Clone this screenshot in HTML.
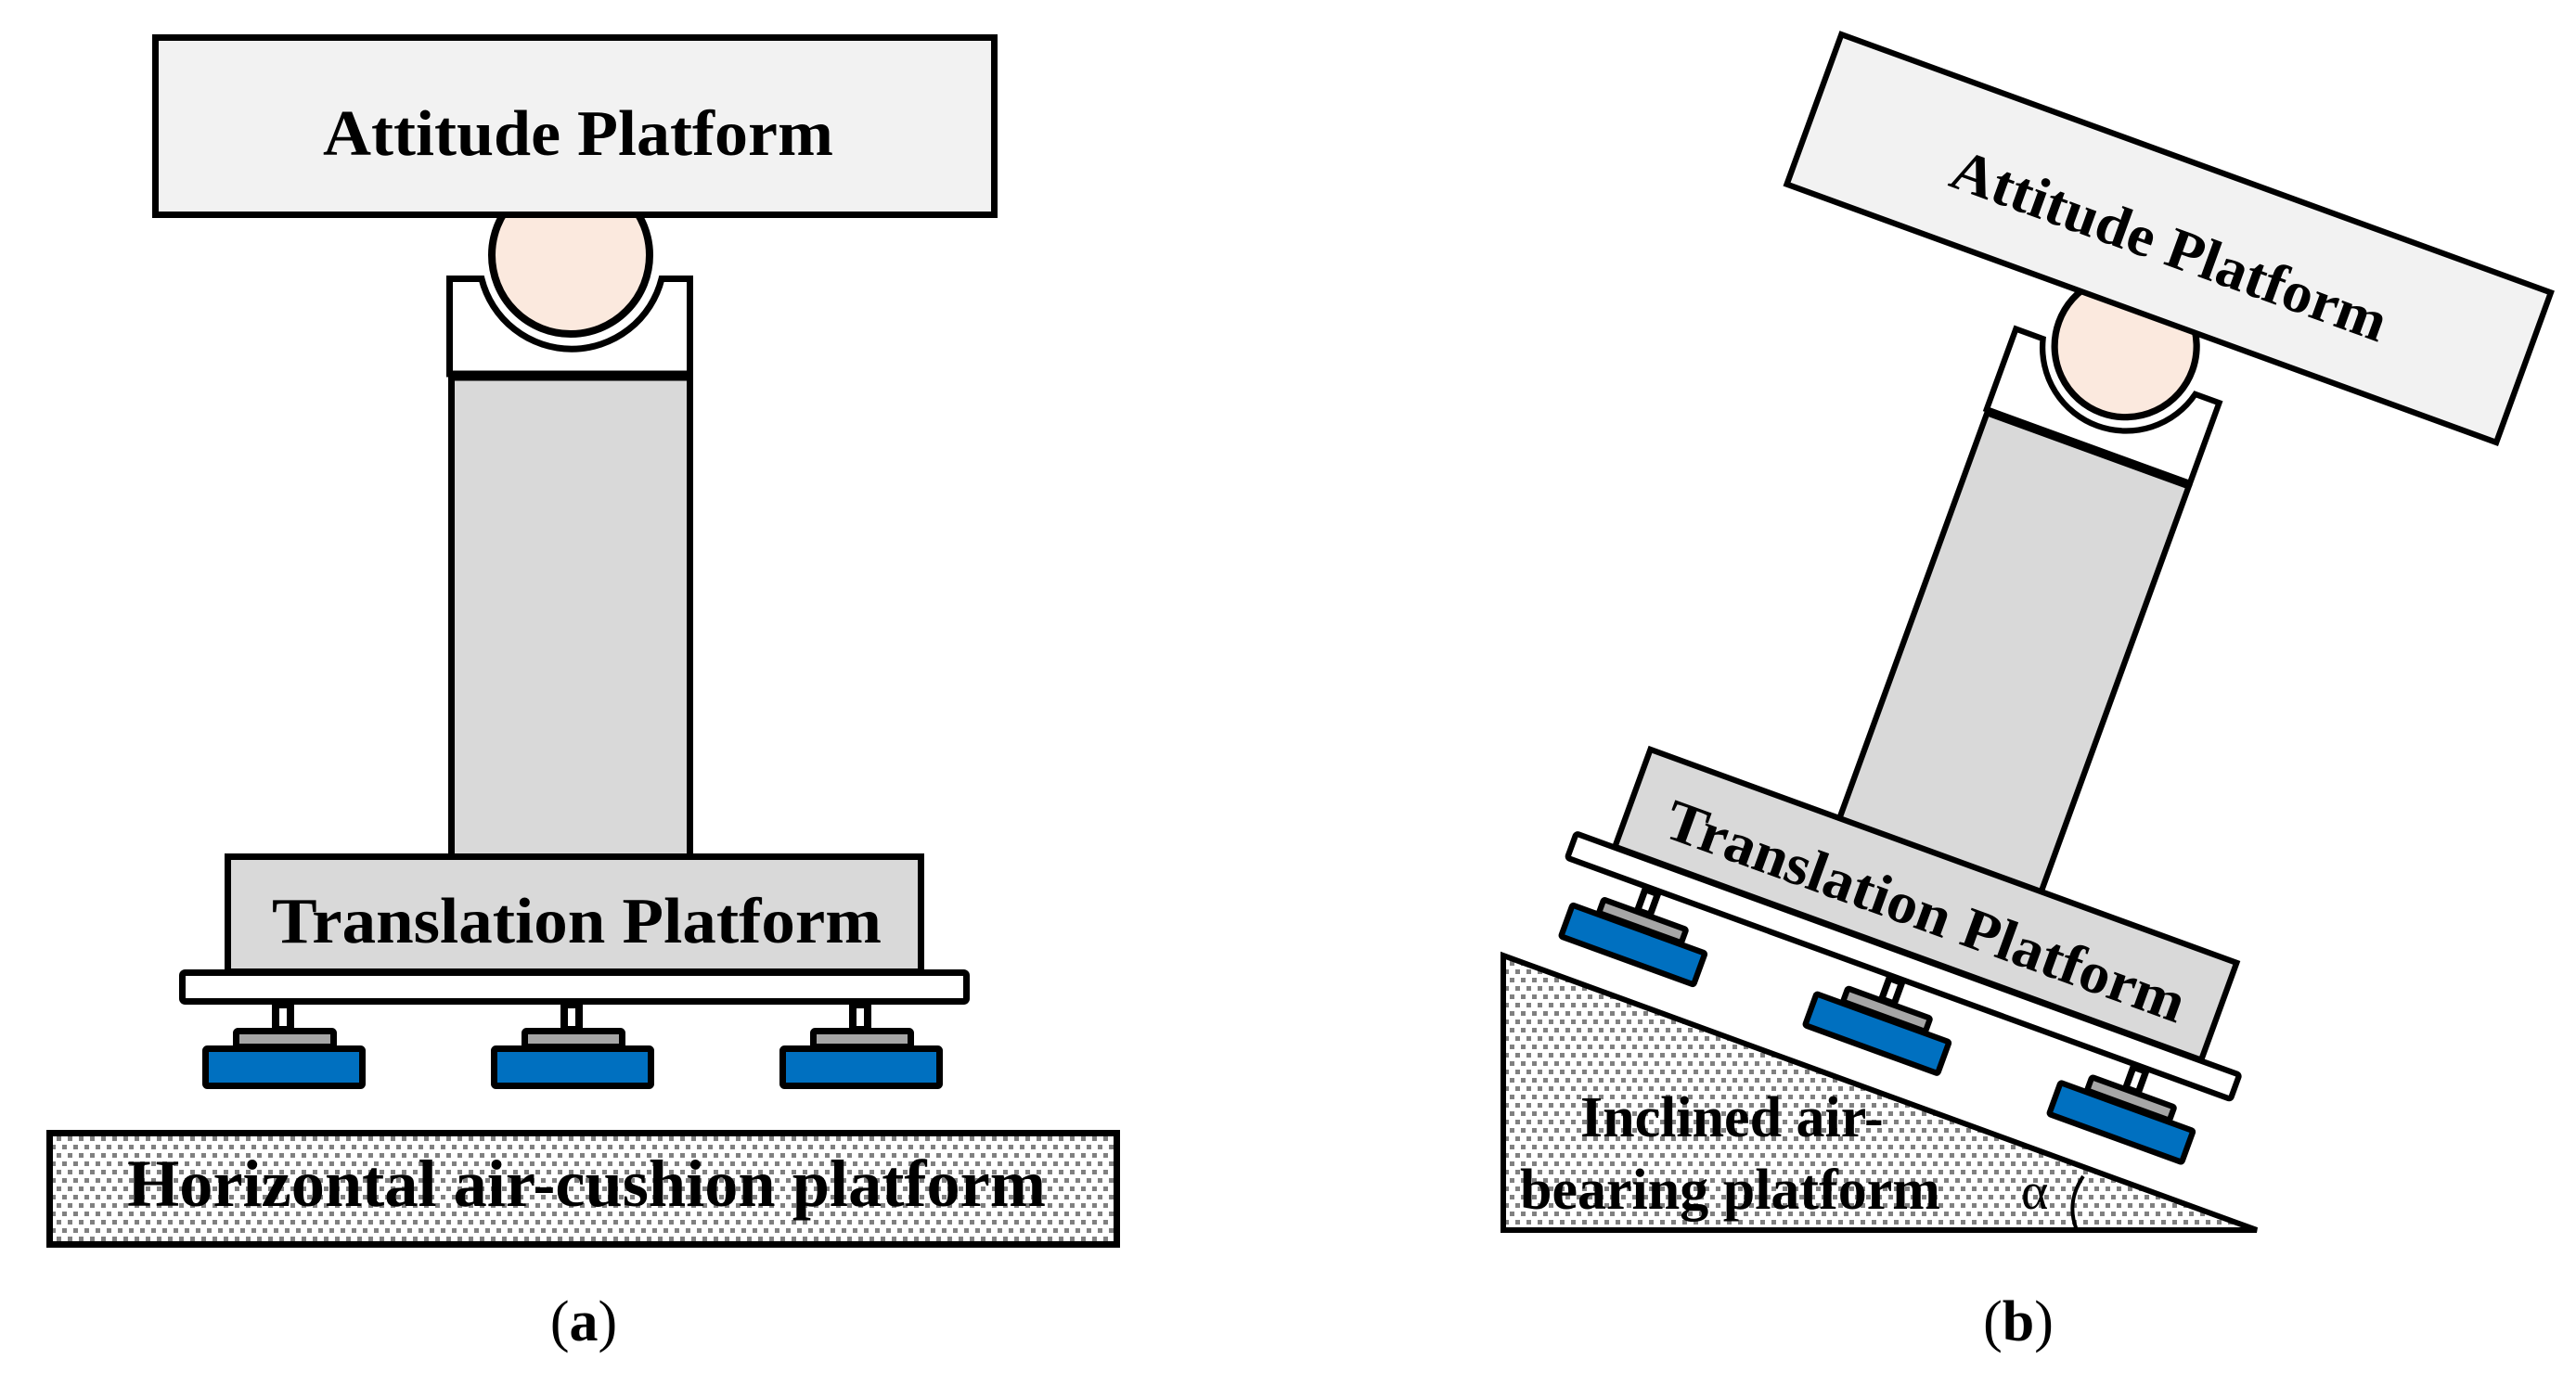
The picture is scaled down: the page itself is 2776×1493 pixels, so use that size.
<!DOCTYPE html>
<html><head><meta charset="utf-8"><style>html,body{margin:0;padding:0;background:#fff}svg{display:block}</style></head>
<body>
<svg width="2776" height="1493" viewBox="0 0 2776 1493" xmlns="http://www.w3.org/2000/svg">
<defs>
<pattern id="dots" width="12" height="18" patternUnits="userSpaceOnUse">
<rect width="12" height="18" fill="#fff"/>
<rect x="1" y="1" width="5" height="5" fill="#808080"/>
<rect x="7" y="10" width="5" height="5" fill="#808080"/>
</pattern>
<g id="pad">
<rect x="297" y="1083" width="16" height="27" fill="#fff" stroke="#000" stroke-width="8"/>
<rect x="254.5" y="1111.5" width="105" height="17" fill="#a6a6a6" stroke="#000" stroke-width="7" rx="2"/>
<rect x="221.5" y="1130.5" width="169" height="40" fill="#0070c0" stroke="#000" stroke-width="7" rx="2"/>
</g>
<g id="asm" font-family="Liberation Serif, serif" font-weight="bold">
<circle cx="615" cy="275" r="85" fill="#fbe9de" stroke="#000" stroke-width="8"/>
<path d="M484.5,300.5 H519 A100,100 0 0 0 713,300.5 H743.5 V403 H484.5 Z" fill="#fff" stroke="#000" stroke-width="7"/>
<rect x="486.5" y="407" width="257" height="517" fill="#d9d9d9" stroke="#000" stroke-width="7"/>
<line x1="484" y1="404" x2="746" y2="404" stroke="#000" stroke-width="6"/>
<rect x="167.5" y="40.5" width="904" height="191" fill="#f2f2f2" stroke="#000" stroke-width="7"/>
<text x="348" y="167" font-size="70" textLength="550" lengthAdjust="spacingAndGlyphs">Attitude Platform</text>
<rect x="245.5" y="923.5" width="747" height="124" fill="#d9d9d9" stroke="#000" stroke-width="7"/>
<text x="293" y="1016" font-size="70" textLength="657" lengthAdjust="spacingAndGlyphs">Translation Platform</text>
<rect x="196.5" y="1048.5" width="845" height="31" fill="#fff" stroke="#000" stroke-width="7" rx="3"/>
<use href="#pad"/>
<use href="#pad" transform="translate(311,0)"/>
<use href="#pad" transform="translate(622,0)"/>
</g>
</defs>

<!-- Panel a -->
<use href="#asm"/>
<rect x="53.5" y="1221.5" width="1150" height="120" fill="url(#dots)" stroke="#000" stroke-width="7"/>
<text x="137" y="1300" font-family="Liberation Serif, serif" font-weight="bold" font-size="72" textLength="990" lengthAdjust="spacingAndGlyphs">Horizontal air-cushion platform</text>
<text x="629" y="1445" text-anchor="middle" font-family="Liberation Serif, serif" font-size="62">(<tspan font-weight="bold">a</tspan>)</text>

<!-- Panel b -->
<path d="M1620,1030 L1620,1326 L2432,1326 Z" fill="url(#dots)" stroke="#000" stroke-width="6"/>
<use href="#asm" transform="translate(2052,1042) rotate(20) scale(0.9) translate(-620,-1064)"/>
<text x="1703" y="1225" font-family="Liberation Serif, serif" font-weight="bold" font-size="62">Inclined air-</text>
<text x="1638" y="1303" font-family="Liberation Serif, serif" font-weight="bold" font-size="62">bearing platform</text>
<text x="2178" y="1303" font-family="Liberation Serif, serif" font-size="56">α</text>
<path d="M2245,1268 Q2226,1296 2238,1326" fill="none" stroke="#000" stroke-width="4"/>
<text x="2175" y="1445" text-anchor="middle" font-family="Liberation Serif, serif" font-size="62">(<tspan font-weight="bold">b</tspan>)</text>
</svg>
</body></html>
